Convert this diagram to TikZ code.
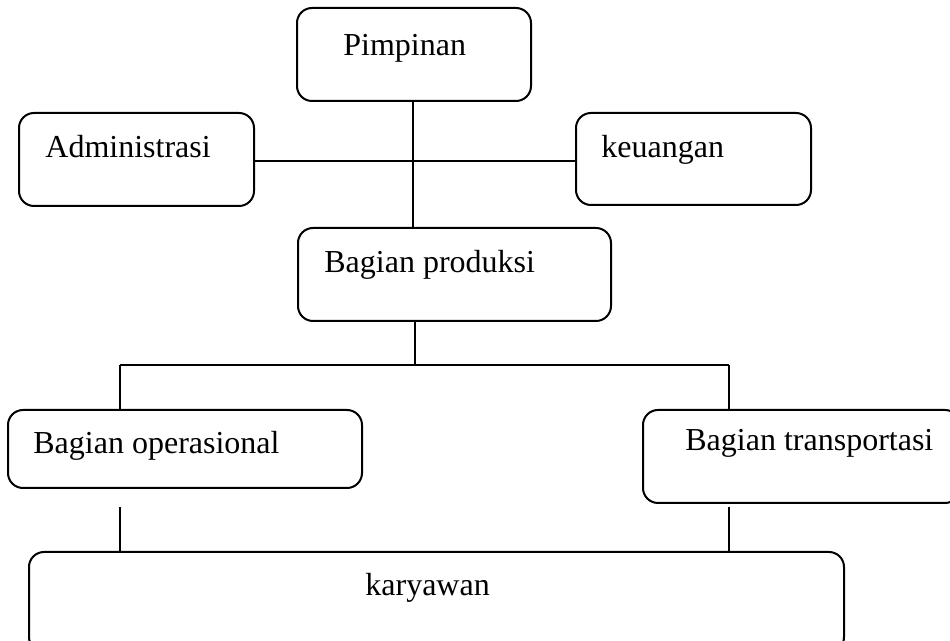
\documentclass[tikz,border=0pt]{standalone}
\usepackage{fontspec}
\setmainfont{Liberation Serif}
\begin{document}
\begin{tikzpicture}[x=0.5pt,y=-0.5pt,
  box/.style={draw,line width=1pt,rounded corners=7.5pt,inner sep=0pt},
  lbl/.style={anchor=base west,inner sep=0pt,font=\fontsize{16}{19}\selectfont},
  conn/.style={line width=1pt}]
\clip (0,0) rectangle (950,641);
\useasboundingbox (0,0) rectangle (950,641);
% boxes
\node[box,minimum width=117pt,minimum height=46.5pt] (pim) at (414,54.5) {};
\node[box,minimum width=117.5pt,minimum height=46.5pt] (adm) at (136.5,159.5) {};
\node[box,minimum width=117.5pt,minimum height=46pt] (keu) at (693.5,159) {};
\node[box,minimum width=156.5pt,minimum height=46.5pt] (prod) at (454.5,274.5) {};
\node[box,minimum width=177pt,minimum height=39pt] (ops) at (185,449) {};
\node[box,minimum width=158.5pt,minimum height=46.5pt] (trans) at (801.5,456.5) {};
\node[box,minimum width=407.5pt,minimum height=50pt] (kar) at (436.5,602) {};
% texts
\node[lbl] (tpim) at (343,56) {Pimpinan};
\node[lbl] (tadm) at (45,158) {Administrasi};
\node[lbl] (tkeu) at (601,158) {keuangan};
\node[lbl] (tprod) at (324,273) {Bagian produksi};
\node[lbl] (tops) at (33,454) {Bagian operasional};
\node[lbl] (ttrans) at (685,451) {Bagian transportasi};
\node[lbl] (tkar) at (365,596) {karyawan};
% junction coordinates
\coordinate (top) at (413,101);
\coordinate (j) at (415,365);
\coordinate (jl) at (120,365);
\coordinate (jr) at (729,365);
\coordinate (ll) at (120,507);
\coordinate (lr) at (729,507);
% connectors
\draw[conn] (top) -- (top |- prod.north);
\draw[conn] (adm.east |- 0,161) -- (keu.west |- 0,161);
\draw[conn] (j |- prod.south) -- (j);
\draw[conn] (jl) -- (jr);
\draw[conn] (jl) -- (jl |- ops.north);
\draw[conn] (jr) -- (jr |- trans.north);
\draw[conn] (ll) -- (ll |- kar.north);
\draw[conn] (lr) -- (lr |- kar.north);
\end{tikzpicture}
\end{document}
